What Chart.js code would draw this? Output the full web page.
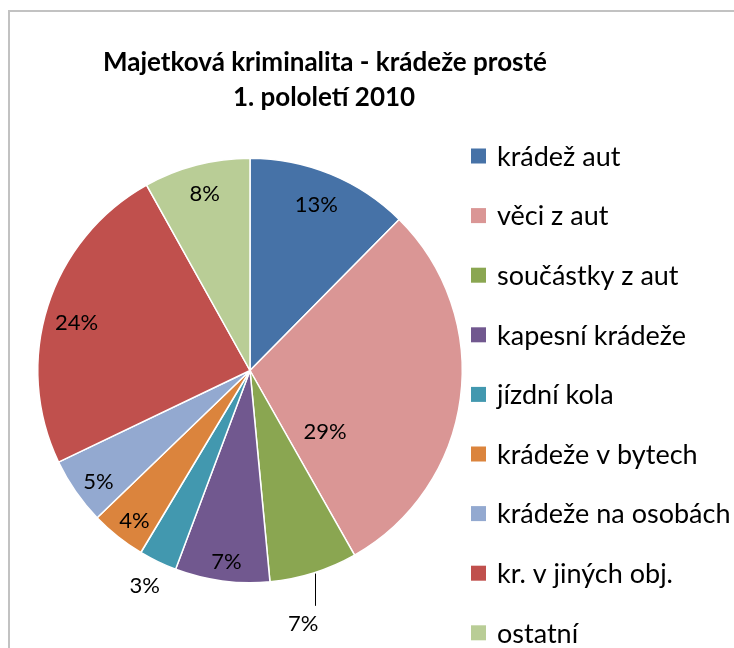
<!DOCTYPE html>
<html>
<head>
<meta charset="utf-8">
<script src="https://cdn.jsdelivr.net/npm/chart.js@4/dist/chart.umd.min.js"></script>
<style>
  body { margin: 0; background: #fff; }
  #pieChart { display: block; }
</style>
</head>
<body>
<canvas id="pieChart" width="734" height="648"></canvas>
<script>
const titleLines = ["Majetková kriminalita - krádeže prosté", "1. pololetí 2010"];

const categories = [
  "krádež aut",
  "věci z aut",
  "součástky z aut",
  "kapesní krádeže",
  "jízdní kola",
  "krádeže v bytech",
  "krádeže na osobách",
  "kr. v jiných obj.",
  "ostatní",
];

// slice sizes as drawn
const sliceShares = [12.4, 29.4, 6.7, 7.2, 2.9, 4.2, 5.1, 24.0, 8.1];
// percentages as printed on the chart
const percentLabels = ["13%", "29%", "7%", "7%", "3%", "4%", "5%", "24%", "8%"];

const sliceColors = [
  "#4672a7",
  "#da9695",
  "#8aa651",
  "#71588f",
  "#4298af",
  "#db843d",
  "#93a9d0",
  "#c0504d",
  "#b9cd96",
];

// where Excel's "best fit" put each percentage: fraction of the slice angle, fraction of the radius
const labelAngle = [0.485, 0.794, 0.73, 0.48, 0.54, 0.45, 0.43, 0.477, 0.51];
const labelRadius = [0.847, 0.453, 1.215, 0.905, 1.126, 0.889, 0.883, 0.849, 0.865];
const leaderFrom = [null, null, 0.485, null, null, null, null, null, null];

const font = "Lato, 'Open Sans', sans-serif";

const decorPlugin = {
  id: "decor",
  beforeDraw(chart) {
    const ctx = chart.ctx;
    ctx.save();
    ctx.strokeStyle = "#c2c2c2";
    ctx.lineWidth = 2;
    ctx.strokeRect(9, 11, 900, 900);

    ctx.fillStyle = "#000";
    ctx.font = `bold 26px ${font}`;
    ctx.textAlign = "center";
    ctx.textBaseline = "middle";
    ctx.fillText(titleLines[0], 325, 63);
    ctx.fillText(titleLines[1], 324, 98);
    ctx.restore();
  },
  afterDatasetsDraw(chart) {
    const ctx = chart.ctx;
    const arcs = chart.getDatasetMeta(0).data;
    ctx.save();
    ctx.fillStyle = "#000";
    ctx.font = `22px ${font}`;
    ctx.textAlign = "center";
    ctx.textBaseline = "middle";
    arcs.forEach((arc, i) => {
      const span = arc.endAngle - arc.startAngle;
      const a = arc.startAngle + span * labelAngle[i];
      const r = arc.outerRadius * labelRadius[i];
      const x = arc.x + Math.cos(a) * r;
      const y = arc.y + Math.sin(a) * r;
      ctx.fillText(percentLabels[i], x, y + 1);
      if (leaderFrom[i] !== null) {
        const la = arc.startAngle + span * leaderFrom[i];
        const lx = arc.x + Math.cos(la) * arc.outerRadius;
        const ly = arc.y + Math.sin(la) * arc.outerRadius;
        ctx.strokeStyle = "#000";
        ctx.lineWidth = 1;
        ctx.beginPath();
        ctx.moveTo(Math.round(lx) + 0.5, ly + 1);
        ctx.lineTo(Math.round(lx) + 0.5, y - 17);
        ctx.stroke();
      }
    });

    // legend
    ctx.textAlign = "left";
    ctx.font = `27px ${font}`;
    categories.forEach((name, i) => {
      const cy = 156 + i * 59.6;
      ctx.fillStyle = sliceColors[i];
      ctx.fillRect(471, cy - 7.5, 15, 15);
      ctx.fillStyle = "#000";
      ctx.fillText(name, 497, cy + 1);
    });
    ctx.restore();
  },
};

new Chart(document.getElementById("pieChart"), {
  type: "pie",
  data: {
    labels: categories,
    datasets: [
      {
        data: sliceShares,
        backgroundColor: sliceColors,
        borderColor: "#ffffff",
        borderWidth: 1.5,
      },
    ],
  },
  options: {
    responsive: false,
    animation: false,
    layout: { padding: { left: 37, right: 271, top: 157, bottom: 64 } },
    plugins: {
      legend: { display: false },
      title: { display: false },
      tooltip: { enabled: false },
    },
  },
  plugins: [decorPlugin],
});
</script>
</body>
</html>
